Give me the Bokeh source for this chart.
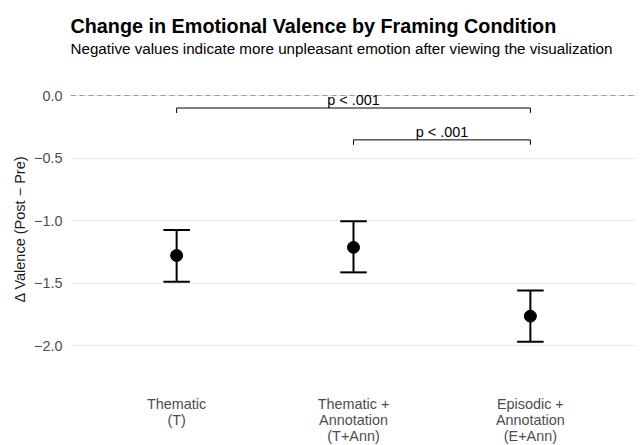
from bokeh.plotting import figure
from bokeh.models import Label, FixedTicker, Span, ColumnDataSource, Range1d, Title
from bokeh.core.properties import value
from bokeh.embed import file_html
from bokeh.resources import INLINE

# ---- data ----
conditions = ["Thematic\n(T)", "Thematic +\nAnnotation\n(T+Ann)", "Episodic +\nAnnotation\n(E+Ann)"]
cond_pos = [1, 2, 3]
means = [-1.28, -1.215, -1.765]
ci_upper = [-1.075, -1.005, -1.56]
ci_lower = [-1.49, -1.415, -1.97]
cap_half = 0.075

bracket_start = [1, 2]
bracket_end = [3, 3]
bracket_y = [-0.10, -0.355]
bracket_tick = 0.04
bracket_labels = ["p < .001", "p < .001"]

y_ticks = [0.0, -0.5, -1.0, -1.5, -2.0]
y_tick_labels = ["0.0", "\u22120.5", "\u22121.0", "\u22121.5", "\u22122.0"]

title_text = "Change in Emotional Valence by Framing Condition"
subtitle_text = "Negative values indicate more unpleasant emotion after viewing the visualization"
ylabel_text = "\u0394 Valence (Post \u2212 Pre)"

FONT = "Liberation Sans"

# panel geometry (pixels)
W, H = 641, 445
PX_PER_UNIT = 125.0
ZERO_PX = 95          # vertical pixel of y = 0
PANEL_BOTTOM_PX = 381
panel_bottom = -(PANEL_BOTTOM_PX - ZERO_PX) / PX_PER_UNIT
y_top = ZERO_PX / PX_PER_UNIT
y_bot = -(H - ZERO_PX) / PX_PER_UNIT

p = figure(width=W, height=H, output_backend="svg", toolbar_location=None,
           x_range=Range1d(0.4, 3.6), y_range=Range1d(y_bot, y_top),
           min_border_left=70, min_border_right=5, min_border_top=0, min_border_bottom=0)
p.title.visible = False
p.outline_line_color = None
p.background_fill_color = "white"
p.border_fill_color = "white"

# y axis
p.xaxis.visible = False
p.yaxis.ticker = FixedTicker(ticks=y_ticks)
p.yaxis.major_label_overrides = {k: v for k, v in zip(y_ticks, y_tick_labels)}
ax = p.yaxis
ax.axis_line_color = None
ax.major_tick_line_color = None
ax.major_tick_out = 0
ax.major_tick_in = 0
ax.minor_tick_line_color = None
ax.major_label_text_font = FONT
ax.major_label_text_font_size = "14.4px"
ax.major_label_text_color = "#4d4d4d"
ax.major_label_standoff = 8

# y-axis title, centred on the data panel
p.add_layout(Title(text=ylabel_text, align="left", offset=143, standoff=7,
                   text_font=FONT, text_font_style="normal", text_font_size="14.5px",
                   text_color="#1a1a1a"), "left")

p.xgrid.grid_line_color = None
p.ygrid.grid_line_color = "#ebebeb"
p.ygrid.grid_line_width = 1

# x category labels (below the panel)
p.text(x=cond_pos, y=[panel_bottom] * len(cond_pos), text=conditions,
       text_align="center", text_baseline="top", y_offset=14,
       text_font=value(FONT), text_font_size="14.4px", text_color="#4d4d4d",
       text_line_height=1.0)

# zero reference
p.add_layout(Span(location=0, dimension="width", line_color="#9a9a9a",
                  line_dash="5 4", line_width=1))

# error bars
src = ColumnDataSource(dict(x=cond_pos, m=means, lo=ci_lower, hi=ci_upper,
                            x0=[c - cap_half for c in cond_pos],
                            x1=[c + cap_half for c in cond_pos]))
p.segment(x0="x", y0="lo", x1="x", y1="hi", source=src, line_color="black", line_width=2)
p.segment(x0="x0", y0="lo", x1="x1", y1="lo", source=src, line_color="black", line_width=2)
p.segment(x0="x0", y0="hi", x1="x1", y1="hi", source=src, line_color="black", line_width=2)
p.scatter(x="x", y="m", source=src, size=12, color="black")

# significance brackets
for xs, xe, by, lab in zip(bracket_start, bracket_end, bracket_y, bracket_labels):
    p.line([xs, xs, xe, xe], [by - bracket_tick, by, by, by - bracket_tick],
           line_color="black", line_width=1)
    p.add_layout(Label(x=(xs + xe) / 2, y=by, text=lab, text_align="center",
                       text_baseline="bottom", text_font=FONT,
                       text_font_size="14.4px", text_color="black"))

# title and subtitle (screen units from frame bottom-left)
p.add_layout(Label(x=0, y=H - 25, x_units="screen", y_units="screen",
                   text=title_text, text_font=FONT, text_font_style="bold",
                   text_font_size="19.8px", text_color="black", text_baseline="alphabetic"))
p.add_layout(Label(x=0, y=H - 47.5, x_units="screen", y_units="screen",
                   text=subtitle_text, text_font=FONT, text_font_size="15.2px",
                   text_color="black", text_baseline="alphabetic"))

open("out.html", "w").write(file_html(p, INLINE))
